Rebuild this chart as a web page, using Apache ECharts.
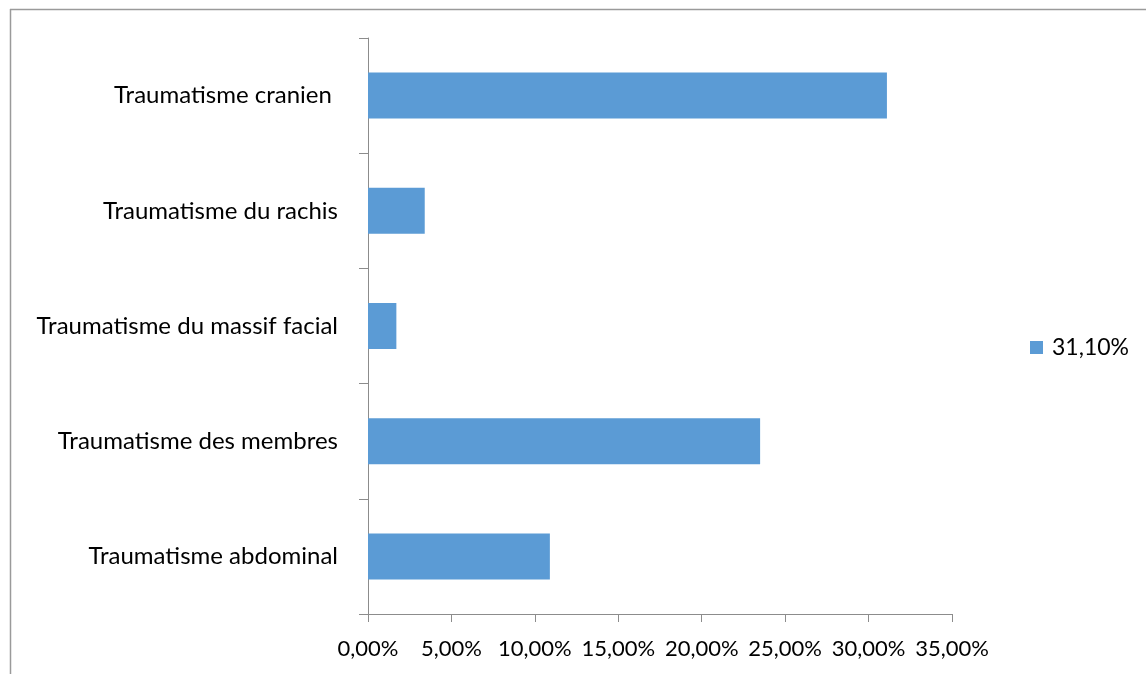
<!DOCTYPE html>
<html>
<head>
<meta charset="utf-8">
<script src="https://cdn.jsdelivr.net/npm/echarts@6/dist/echarts.min.js"></script>
<style>
  html, body { margin: 0; padding: 0; background: #fff; }
  #chart { width: 1146px; height: 674px; }
</style>
</head>
<body>
<div id="chart"></div>
<script>
// donnees
const categories = [
  'Traumatisme cranien ',
  'Traumatisme du rachis',
  'Traumatisme du massif facial',
  'Traumatisme des membres',
  'Traumatisme abdominal'
];
const values = [31.1, 3.4, 1.7, 23.5, 10.9];
const seriesName = '31,10%';

const axisGray = '#8c8c8c';
const font = 'Lato, "Open Sans", sans-serif';

const chart = echarts.init(document.getElementById('chart'));

chart.setOption({
  animation: false,
  textStyle: { fontFamily: font },
  graphic: [
    // cadre du graphique (bord haut et gauche visibles)
    { type: 'line', shape: { x1: 10, y1: 9.5, x2: 1146, y2: 9.5 }, style: { stroke: '#9a9a9a', lineWidth: 1.5 } },
    { type: 'line', shape: { x1: 10.5, y1: 9, x2: 10.5, y2: 674 }, style: { stroke: '#9a9a9a', lineWidth: 1.5 } }
  ],
  legend: {
    data: [seriesName],
    right: 12,
    top: 331,
    orient: 'vertical',
    icon: 'rect',
    itemWidth: 13,
    itemHeight: 13,
    textStyle: { fontSize: 23, color: '#000', fontFamily: font, padding: [0, 0, 0, 4] }
  },
  grid: { left: 368, right: 194, top: 38, bottom: 60, containLabel: false },
  xAxis: {
    type: 'value',
    min: 0,
    max: 35,
    interval: 5,
    axisLine: { show: true, lineStyle: { color: axisGray, width: 1 } },
    axisTick: { show: true, length: 8, inside: false, lineStyle: { color: axisGray } },
    splitLine: { show: false },
    axisLabel: {
      fontSize: 22,
      color: '#000',
      margin: 24,
      formatter: v => v.toFixed(2).replace('.', ',') + '%'
    }
  },
  yAxis: {
    type: 'category',
    data: categories,
    inverse: true,
    axisLine: { show: true, lineStyle: { color: axisGray, width: 1 } },
    axisTick: { show: true, length: 9, lineStyle: { color: axisGray } },
    axisLabel: { fontSize: 24, color: '#000', margin: 30 }
  },
  series: [{
    name: seriesName,
    type: 'bar',
    data: values,
    barWidth: 46,
    itemStyle: { color: '#5B9BD5' }
  }]
});
</script>
</body>
</html>
